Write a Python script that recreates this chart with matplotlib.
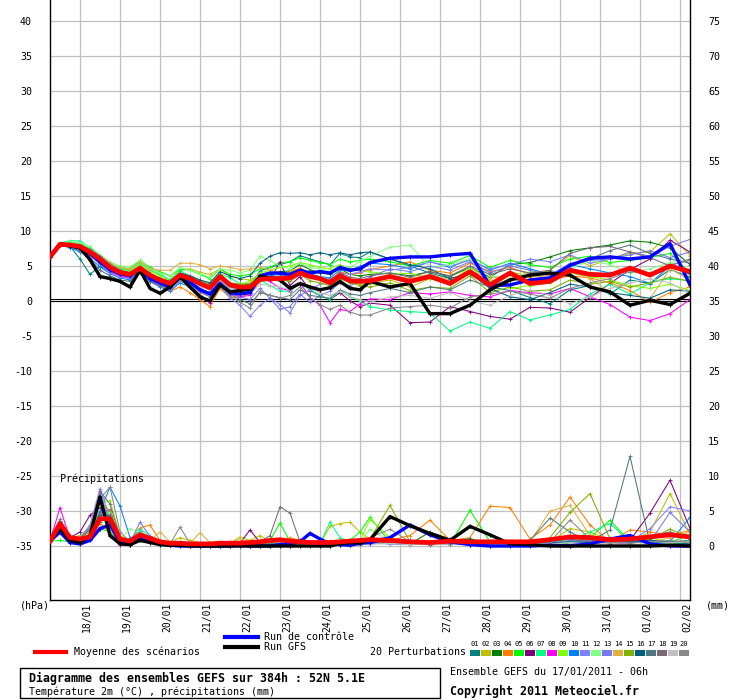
import matplotlib
matplotlib.use("Agg")
import matplotlib.pyplot as plt
from matplotlib.lines import Line2D
from matplotlib.patches import Rectangle

# ---------------- data ----------------
hours = [0, 6, 12, 18, 24, 30, 36, 42, 48, 54, 60, 66, 72, 78, 84, 90, 96, 102, 108, 114,
         120, 126, 132, 138, 144, 150, 156, 162, 168, 174, 180, 186, 192,
         204, 216, 228, 240, 252, 264, 276, 288, 300, 312, 324, 336, 348, 360, 372, 384]

day_hours = [18, 42, 66, 90, 114, 138, 162, 186, 210, 234, 258, 282, 306, 330, 354, 378]
day_labels = ["18/01", "19/01", "20/01", "21/01", "22/01", "23/01", "24/01", "25/01",
              "26/01", "27/01", "28/01", "29/01", "30/01", "31/01", "01/02", "02/02"]

left_ticks = [40, 35, 30, 25, 20, 15, 10, 5, 0, -5, -10, -15, -20, -25, -30, -35]
right_ticks = [75, 70, 65, 60, 55, 50, 45, 40, 35, 30, 25, 20, 15, 10, 5, 0]

pert_colors = ["#008080", "#c0c000", "#008000", "#ff8000", "#00ff00", "#800080", "#00ff80",
               "#ff00ff", "#80ff00", "#0080ff", "#8080ff", "#80ff80", "#7878f0", "#e0b040",
               "#80b000", "#006080", "#507880", "#786878", "#c0c0c0", "#888888"]
pert_names = ["01", "02", "03", "04", "05", "06", "07", "08", "09", "10",
              "11", "12", "13", "14", "15", "16", "17", "18", "19", "20"]

# temperature 2m (deg C)
mean_t = [6.3, 8.1, 8.0, 7.8, 7.0, 6.0, 4.8, 4.1, 3.8, 4.7, 3.7, 3.0, 2.5, 3.7, 3.2, 2.5, 1.9, 3.5, 2.3, 2.0,
          2.0, 3.1, 3.2, 3.2, 3.3, 4.0, 3.5, 3.2, 2.6, 3.6, 2.9, 2.8, 2.9,
          3.5, 2.8, 3.5, 2.5, 4.2, 2.3, 4.0, 2.5, 2.8, 4.4, 3.8, 3.7, 4.7, 3.7, 5.0, 4.2]
ctrl_t = [6.3, 8.1, 7.9, 7.6, 6.8, 5.6, 4.5, 3.9, 3.6, 4.6, 3.2, 2.6, 2.0, 3.4, 2.7, 1.6, 1.0, 2.5, 1.2, 1.0,
          1.2, 3.6, 4.0, 4.0, 3.8, 4.4, 4.0, 4.2, 4.0, 4.8, 4.4, 4.6, 5.5,
          6.1, 6.3, 6.3, 6.6, 6.8, 2.2, 2.3, 3.0, 3.3, 5.1, 6.1, 6.3, 6.0, 6.3, 8.2, 2.3]
gfs_t = [6.3, 8.1, 7.9, 7.6, 5.9, 3.5, 3.2, 2.8, 2.0, 4.4, 1.8, 1.1, 2.0, 3.5, 2.0, 0.6, 0.0, 2.3, 1.3, 1.5,
         1.7, 3.5, 3.3, 3.0, 1.8, 2.5, 2.0, 1.6, 1.9, 2.8, 1.8, 1.6, 2.8,
         2.0, 2.5, -1.8, -1.8, -0.6, 1.6, 3.0, 3.7, 4.0, 3.7, 2.0, 1.3, -0.6, 0.1, -0.5, 1.1]

p01_t = [6.3, 8.0, 7.8, 6.0, 3.8, 5.0, 4.2, 3.6, 3.4, 4.4, 3.2, 2.8, 2.2, 3.6, 3.0, 2.3, 1.5, 3.8, 2.2, 1.8,
         2.2, 4.3, 4.8, 5.2, 5.6, 6.5, 6.0, 5.6, 5.2, 6.8, 6.3, 6.2, 7.0,
         6.0, 5.0, 4.0, 3.2, 3.8, 2.0, 1.5, 0.5, -0.4, 1.6, 2.2, 1.0, 3.0, 2.5, 4.5, 3.4]
p02_t = [6.3, 8.1, 8.2, 8.0, 7.4, 6.4, 5.2, 4.6, 4.5, 5.6, 4.5, 3.8, 3.0, 4.5, 4.6, 4.1, 3.8, 4.6, 3.5, 3.2,
         3.0, 3.8, 3.5, 3.2, 4.0, 4.6, 4.0, 3.4, 2.5, 3.6, 2.8, 2.4, 2.5,
         3.0, 2.0, 3.2, 2.4, 4.3, 2.6, 4.2, 3.5, 4.4, 6.5, 5.0, 6.0, 6.8, 7.0, 9.6, 6.5]
p03_t = [6.3, 8.0, 7.9, 7.6, 6.9, 5.8, 4.6, 4.0, 3.8, 4.8, 3.6, 3.0, 2.6, 3.9, 3.3, 2.6, 2.0, 3.4, 2.5, 2.2,
         2.4, 3.6, 3.8, 4.2, 4.3, 5.2, 4.5, 4.0, 3.8, 4.6, 3.8, 3.6, 3.8,
         4.0, 3.6, 4.2, 3.5, 4.8, 3.4, 5.2, 5.5, 6.3, 7.2, 7.6, 8.0, 8.6, 8.4, 7.6, 5.2]
p04_t = [6.3, 8.0, 7.8, 7.5, 6.6, 5.5, 4.3, 3.7, 3.3, 4.3, 3.0, 2.2, 1.4, 2.0, 1.2, 0.2, -0.8, 1.8, 0.5, 0.6,
         1.0, 2.8, 3.0, 3.4, 4.2, 4.7, 3.9, 3.3, 2.8, 4.2, 3.8, 4.0, 4.5,
         5.0, 5.6, 4.4, 4.0, 5.4, 4.2, 4.8, 3.8, 3.0, 3.6, 3.3, 2.6, 1.5, -0.2, 1.2, 2.0]
p05_t = [6.3, 8.2, 8.5, 8.2, 7.4, 6.3, 5.2, 4.8, 4.6, 5.8, 4.8, 4.2, 3.6, 4.5, 4.4, 3.8, 3.2, 4.6, 3.8, 3.6,
         3.8, 4.6, 4.8, 5.5, 5.6, 6.2, 5.8, 5.5, 5.2, 6.0, 5.6, 5.8, 6.0,
         5.6, 5.0, 5.8, 5.4, 6.5, 4.8, 5.8, 5.2, 4.8, 6.0, 6.4, 5.5, 5.8, 6.2, 6.8, 4.0]
p06_t = [6.3, 8.1, 8.0, 7.6, 6.8, 5.8, 4.6, 4.0, 3.5, 4.4, 3.4, 2.6, 2.4, 3.8, 3.2, 2.7, 2.2, 3.8, 2.5, 2.0,
         1.5, 3.2, 3.0, 5.6, 2.2, 3.5, 1.5, 0.8, 0.2, 1.2, 0.0, -0.8, -0.3,
         -0.6, -3.1, -3.0, -0.8, -1.5, -2.2, -2.6, -0.9, -1.0, -1.6, 0.5, 2.5, 4.5, 6.0, 8.7, 7.0]
p07_t = [6.3, 8.3, 8.6, 8.6, 7.6, 6.5, 5.4, 4.6, 4.3, 5.4, 4.4, 3.8, 3.0, 4.3, 3.6, 3.0, 2.4, 3.9, 3.3, 2.5,
         2.0, 3.0, 2.2, 1.5, 1.3, 2.6, 1.6, 0.8, 0.2, 1.5, 0.6, 0.0, -0.8,
         -1.3, -1.5, -1.7, -4.3, -3.0, -3.9, -1.5, -2.7, -2.0, -1.2, 1.0, 2.4, 1.0, 2.6, 3.2, 2.9]
p08_t = [6.3, 8.0, 7.7, 7.3, 6.5, 5.3, 4.2, 3.6, 3.2, 4.2, 3.0, 2.2, 1.8, 3.3, 2.5, 0.8, -0.3, 2.6, 1.0, 0.6,
         0.8, 3.2, 2.8, 1.8, 1.5, 2.6, 0.5, -0.6, -3.1, -1.2, -1.5, -0.4, 0.3,
         0.2, 1.2, 1.0, 1.3, 0.8, 0.6, 1.5, 1.2, 1.0, 1.8, 0.6, -0.5, -2.3, -2.8, -1.8, 0.2]
p09_t = [6.3, 8.1, 8.2, 7.9, 7.2, 6.1, 5.0, 4.4, 4.2, 5.2, 4.2, 3.6, 2.8, 3.8, 3.4, 2.6, 2.2, 3.6, 2.4, 2.4,
         2.8, 4.0, 4.4, 4.8, 5.0, 5.5, 5.2, 4.8, 4.6, 5.2, 4.6, 4.4, 4.2,
         3.8, 4.0, 3.2, 2.8, 4.8, 3.0, 1.8, 2.2, 2.6, 4.0, 3.5, 3.0, 2.2, 1.8, 2.4, 1.5]
p10_t = [6.3, 8.0, 7.6, 7.0, 6.1, 4.9, 3.9, 3.3, 3.0, 4.1, 2.8, 2.0, 1.4, 2.6, 2.0, 1.5, 1.0, 3.0, 1.6, 1.2,
         1.4, 3.5, 3.6, 3.8, 3.5, 4.5, 3.8, 3.5, 3.3, 4.4, 4.3, 5.0, 5.4,
         5.2, 4.6, 5.6, 4.8, 6.0, 4.4, 5.4, 4.6, 3.8, 5.2, 4.6, 4.0, 3.5, 2.5, 5.0, 3.8]
p11_t = [6.3, 8.1, 7.9, 7.4, 6.6, 5.3, 4.0, 3.4, 3.2, 4.2, 3.0, 2.4, 1.6, 2.8, 2.3, 1.4, 0.6, 2.2, 0.4, -0.6,
         -2.2, -0.6, 0.4, -0.5, -1.7, 0.8, 1.6, 2.4, 2.8, 4.0, 3.8, 4.2, 4.6,
         4.4, 4.8, 5.6, 5.0, 5.8, 4.6, 5.2, 6.0, 5.6, 6.6, 5.4, 6.0, 7.0, 6.4, 7.8, 8.8]
p12_t = [6.3, 8.3, 8.5, 8.3, 7.8, 6.6, 5.6, 5.0, 4.9, 5.8, 4.6, 4.0, 3.6, 4.8, 4.4, 3.9, 3.4, 4.6, 4.4, 4.0,
         4.4, 6.4, 5.8, 5.0, 4.6, 5.4, 4.8, 4.6, 4.2, 5.0, 4.8, 5.6, 6.4,
         7.7, 8.0, 4.8, 5.2, 6.0, 3.6, 3.2, 4.2, 3.8, 4.6, 5.8, 5.2, 4.0, 4.6, 5.5, 5.8]
p13_t = [6.3, 8.0, 7.8, 7.3, 6.5, 5.4, 4.4, 3.8, 3.5, 4.6, 3.4, 2.8, 2.0, 3.2, 2.6, 1.8, 1.2, 2.5, 1.2, 0.6,
         0.2, 1.8, 0.4, -1.2, -0.8, 1.0, -0.2, 0.8, 1.4, 2.6, 2.2, 2.8, 3.4,
         4.6, 4.2, 5.0, 4.4, 5.6, 4.0, 5.0, 4.4, 3.6, 5.4, 5.8, 6.0, 6.6, 7.2, 6.2, 7.0]
p14_t = [6.3, 8.1, 8.0, 7.8, 7.2, 6.4, 5.4, 4.8, 4.6, 5.6, 4.6, 4.4, 4.4, 5.4, 5.4, 5.2, 4.6, 5.0, 4.8, 4.5,
         4.6, 4.8, 4.4, 4.0, 3.8, 4.4, 3.6, 3.0, 2.6, 3.6, 3.0, 2.8, 3.0,
         3.6, 3.2, 3.8, 3.0, 4.4, 3.2, 3.8, 3.4, 3.6, 4.2, 3.2, 1.2, -0.5, 0.3, 4.6, 3.0]
p15_t = [6.3, 8.1, 8.1, 7.8, 7.1, 6.0, 4.8, 4.2, 4.0, 4.9, 3.8, 3.2, 2.7, 4.0, 3.4, 2.8, 2.5, 3.9, 2.6, 2.4,
         2.5, 3.6, 3.3, 3.0, 2.8, 3.8, 2.9, 2.6, 2.2, 3.2, 2.6, 2.2, 2.0,
         2.6, 1.5, 2.0, 1.8, 3.6, 1.2, 2.0, 1.4, 1.6, 3.0, 2.4, 2.8, 2.0, 2.6, 3.4, 2.8]
p16_t = [6.3, 8.0, 7.8, 7.4, 6.6, 5.5, 4.5, 3.9, 3.7, 4.8, 3.6, 3.2, 2.8, 4.0, 3.6, 3.0, 2.6, 4.2, 3.6, 3.2,
         3.6, 5.4, 6.4, 6.9, 6.8, 6.9, 6.6, 6.9, 6.6, 6.9, 6.6, 6.9, 7.0,
         6.0, 5.2, 4.6, 3.2, 4.0, 1.8, 0.6, 0.2, 1.2, 2.4, 2.0, 1.2, 0.8, 0.4, 1.6, 1.4]
p17_t = [6.3, 8.0, 7.7, 7.2, 6.0, 4.4, 3.6, 3.0, 2.8, 4.0, 2.7, 2.2, 1.8, 3.0, 2.4, 1.6, 1.2, 2.8, 1.0, 0.2,
         -0.4, 1.2, 0.8, 0.5, 0.2, 1.6, 0.8, 0.6, 0.4, 1.6, 1.0, 0.8, 1.2,
         1.8, 1.2, 2.0, 1.6, 3.0, 2.0, 3.2, 2.6, 3.4, 5.2, 6.0, 7.2, 8.0, 6.8, 6.0, 5.4]
p18_t = [6.3, 8.1, 8.0, 7.6, 6.9, 5.8, 4.7, 4.0, 3.7, 4.6, 3.5, 3.0, 2.6, 3.6, 3.0, 2.4, 1.8, 3.3, 2.0, 1.6,
         1.6, 3.0, 3.3, 3.6, 3.4, 4.2, 3.6, 3.3, 3.1, 4.0, 3.4, 3.2, 3.6,
         4.0, 3.4, 4.2, 3.6, 5.0, 3.8, 4.6, 4.0, 4.4, 6.8, 7.6, 7.8, 7.0, 6.2, 5.0, 6.0]
p19_t = [6.3, 8.1, 7.9, 7.5, 6.7, 5.6, 4.5, 3.8, 3.6, 4.5, 3.4, 2.8, 2.2, 3.2, 2.6, 2.0, 1.6, 3.0, 1.8, 1.2,
         1.0, 2.4, 2.2, 2.0, 1.6, 2.6, 1.8, 1.2, 0.8, 1.4, 0.6, 0.2, -0.2,
         0.6, 0.8, 0.4, 1.2, 0.0, -0.6, 0.8, 1.6, 0.8, -0.4, 0.6, 1.8, 2.6, 3.2, 2.6, 1.0]
p20_t = [6.3, 8.2, 8.1, 7.9, 7.4, 6.5, 5.3, 4.4, 4.0, 4.6, 3.4, 2.6, 2.0, 3.0, 2.2, 1.2, 0.6, 2.0, 0.8, -0.2,
         -1.0, 1.4, 0.8, 0.4, 0.8, 2.0, 0.5, -0.5, -1.2, -0.6, -1.6, -2.0, -2.0,
         -1.0, -0.8, -0.6, -1.0, 0.6, 1.0, 1.4, 1.0, 0.4, 1.8, 2.6, 3.2, 4.2, 4.0, 5.2, 5.8]

# precipitation (mm)
mean_p = [0.7, 3.2, 1.2, 1.0, 1.3, 3.9, 3.9, 1.0, 0.7, 1.6, 1.1, 0.6, 0.4, 0.4, 0.3, 0.3, 0.3, 0.4, 0.4, 0.4,
          0.5, 0.6, 0.8, 0.9, 0.7, 0.6, 0.5, 0.5, 0.5, 0.6, 0.7, 0.8, 0.9,
          0.8, 0.6, 0.5, 0.7, 0.6, 0.6, 0.6, 0.6, 0.9, 1.3, 1.2, 0.9, 1.0, 1.3, 1.6, 1.3]
ctrl_p = [0.7, 2.0, 0.5, 0.3, 0.8, 2.5, 3.0, 0.5, 0.2, 1.2, 0.8, 0.3, 0.1, 0.0, 0.0, 0.0, 0.0, 0.0, 0.0, 0.1,
          0.0, 0.0, 0.0, 0.2, 0.3, 0.6, 1.8, 1.0, 0.3, 0.2, 0.1, 0.4, 0.5,
          1.2, 3.0, 1.6, 0.6, 0.2, 0.0, 0.0, 0.0, 0.1, 0.0, 0.3, 1.0, 1.5, 0.3, 0.0, 0.0]
gfs_p = [0.7, 2.5, 0.8, 0.5, 1.5, 7.0, 1.5, 0.3, 0.2, 0.8, 0.5, 0.2, 0.1, 0.1, 0.0, 0.0, 0.0, 0.0, 0.0, 0.0,
         0.0, 0.0, 0.0, 0.0, 0.0, 0.0, 0.0, 0.0, 0.0, 0.3, 0.5, 0.4, 0.9,
         4.2, 2.9, 1.8, 0.8, 2.8, 1.6, 0.3, 0.2, 0.0, 0.0, 0.0, 0.0, 0.0, 0.0, 0.1, 0.0]

p01_p = [0.7, 3.5, 1.0, 0.8, 1.2, 4.0, 3.5, 0.8, 0.5, 1.5, 1.0, 0.4, 0.2, 0.2, 0.1, 0.1, 0.0, 0.1, 0.2, 0.1,
         0.1, 0.2, 0.3, 0.5, 0.6, 0.8, 0.6, 0.4, 0.2, 0.1, 0.2, 0.5, 0.6,
         0.4, 0.2, 0.3, 0.5, 0.2, 0.1, 0.3, 0.2, 0.5, 1.2, 0.8, 0.4, 0.6, 1.5, 1.8, 1.0]
p02_p = [0.7, 3.0, 1.2, 1.5, 2.2, 5.0, 4.5, 1.4, 0.4, 1.2, 0.8, 0.6, 0.5, 1.2, 0.8, 0.5, 0.5, 0.6, 0.4, 1.3,
         0.8, 1.5, 0.6, 0.2, 0.3, 0.5, 0.3, 0.3, 2.8, 3.2, 3.4, 2.0, 1.0,
         0.8, 0.4, 0.2, 0.6, 0.4, 0.2, 0.5, 0.3, 0.6, 2.5, 2.0, 0.8, 0.6, 2.0, 7.5, 1.6]
p03_p = [0.7, 2.8, 0.8, 0.6, 1.0, 3.5, 4.2, 1.0, 0.6, 1.8, 1.2, 0.5, 0.2, 0.2, 0.1, 0.0, 0.0, 0.1, 0.0, 0.2,
         0.2, 0.4, 0.5, 0.6, 0.8, 0.4, 0.3, 0.4, 0.2, 0.5, 0.8, 0.6, 0.4,
         0.6, 0.3, 2.0, 1.0, 0.5, 0.3, 0.4, 0.2, 0.2, 0.5, 0.8, 1.0, 1.2, 0.6, 0.3, 0.4]
p04_p = [0.7, 3.3, 1.0, 0.6, 1.4, 3.2, 2.0, 0.6, 0.8, 2.6, 3.0, 0.8, 0.3, 0.3, 0.2, 0.1, 0.0, 0.2, 0.1, 0.5,
         0.3, 0.2, 0.3, 0.6, 1.2, 0.8, 0.4, 0.5, 0.7, 0.6, 0.5, 0.6, 1.0,
         0.8, 1.5, 3.7, 0.8, 1.2, 5.7, 5.5, 1.0, 3.0, 7.0, 3.0, 0.6, 2.3, 2.0, 1.6, 2.2]
p05_p = [0.7, 0.8, 0.6, 0.8, 1.0, 2.5, 2.0, 0.4, 0.5, 2.0, 0.8, 0.3, 0.2, 0.2, 0.0, 0.0, 0.1, 0.0, 0.2, 0.6,
         0.4, 0.2, 0.8, 3.3, 0.6, 0.4, 0.3, 0.6, 0.4, 0.3, 0.8, 2.0, 4.1,
         0.5, 0.3, 0.4, 0.2, 5.1, 0.6, 0.2, 0.3, 0.2, 0.4, 1.2, 3.7, 0.6, 0.4, 0.5, 1.6]
p06_p = [0.7, 3.0, 1.2, 2.0, 4.4, 5.5, 3.0, 0.8, 0.3, 1.0, 0.6, 0.4, 0.2, 0.1, 0.0, 0.0, 0.0, 0.3, 0.6, 0.4,
         2.3, 0.5, 0.3, 0.2, 0.1, 0.2, 0.4, 0.3, 0.6, 0.4, 0.3, 0.5, 0.8,
         0.4, 0.5, 0.2, 0.6, 0.4, 0.3, 0.5, 0.4, 0.8, 0.6, 1.0, 0.5, 0.8, 4.7, 9.4, 2.5]
p07_p = [0.7, 3.6, 1.1, 0.6, 1.2, 4.5, 5.0, 1.2, 0.8, 2.4, 1.5, 0.6, 0.3, 0.2, 0.2, 0.4, 0.2, 0.3, 0.2, 0.3,
         0.5, 0.2, 0.6, 1.0, 0.8, 0.5, 0.4, 0.3, 3.4, 1.2, 0.6, 0.4, 0.5,
         1.0, 0.4, 0.3, 0.5, 1.0, 0.4, 0.3, 0.5, 0.6, 0.8, 2.0, 3.2, 0.6, 0.5, 0.4, 0.8]
p08_p = [0.7, 5.5, 1.0, 0.5, 1.2, 4.8, 5.2, 0.2, 0.1, 1.4, 0.8, 0.3, 0.2, 0.1, 0.0, 0.0, 0.0, 0.0, 0.0, 0.1,
         0.0, 0.2, 0.0, 0.1, 0.0, 0.2, 0.3, 0.1, 0.0, 0.2, 0.3, 0.4, 0.6,
         0.5, 0.3, 0.4, 0.3, 0.2, 0.0, 0.4, 0.6, 0.3, 0.2, 0.5, 0.3, 0.4, 0.8, 0.6, 0.4]
p09_p = [0.7, 3.2, 1.3, 0.9, 1.8, 6.0, 6.5, 1.5, 0.5, 1.6, 1.0, 0.5, 0.3, 0.2, 0.1, 0.1, 0.2, 0.4, 0.3, 0.2,
         0.4, 0.8, 0.6, 0.4, 0.3, 0.2, 0.3, 0.6, 0.4, 0.3, 0.5, 0.8, 3.8,
         1.2, 0.4, 0.6, 0.3, 0.5, 0.2, 0.6, 0.3, 0.4, 0.6, 1.6, 0.8, 0.6, 1.2, 0.5, 0.4]
p10_p = [0.7, 3.4, 1.4, 0.8, 1.2, 5.0, 8.4, 5.7, 1.2, 1.0, 0.6, 0.3, 0.2, 0.1, 0.0, 0.0, 0.0, 0.2, 0.1, 0.0,
         0.2, 0.4, 0.5, 0.3, 0.2, 0.4, 0.3, 0.2, 0.1, 0.3, 0.5, 0.6, 0.4,
         0.5, 0.8, 0.4, 0.3, 0.6, 0.3, 0.2, 0.3, 0.6, 0.4, 0.6, 1.2, 0.4, 0.8, 0.6, 4.1]
p11_p = [0.7, 3.0, 1.0, 1.2, 3.0, 8.2, 4.0, 1.0, 0.4, 2.2, 1.0, 0.4, 0.2, 0.1, 0.0, 0.1, 0.0, 0.0, 0.2, 0.1,
         0.0, 0.3, 0.2, 0.5, 0.6, 0.4, 0.2, 0.3, 0.2, 0.4, 0.3, 0.2, 0.5,
         0.3, 0.2, 0.5, 0.4, 0.3, 0.6, 0.4, 0.3, 0.4, 0.6, 0.8, 0.5, 0.6, 2.5, 5.6, 5.0]
p12_p = [0.7, 2.6, 0.9, 0.6, 1.6, 4.2, 4.8, 0.9, 2.5, 2.0, 1.2, 0.5, 0.3, 0.2, 0.1, 0.0, 0.1, 0.0, 0.2, 0.2,
         0.3, 0.4, 0.3, 0.5, 0.4, 0.3, 0.2, 0.3, 0.5, 0.4, 0.3, 0.6, 2.4,
         0.6, 0.4, 0.3, 0.8, 0.4, 0.2, 0.3, 0.4, 0.2, 0.5, 1.0, 0.6, 0.4, 0.7, 0.5, 0.6]
p13_p = [0.7, 3.4, 1.1, 1.0, 2.6, 7.5, 3.5, 0.6, 0.5, 3.4, 1.4, 0.6, 0.3, 0.2, 0.1, 0.0, 0.0, 0.1, 0.0, 0.2,
         0.1, 0.2, 0.4, 0.6, 0.3, 0.5, 0.4, 0.2, 0.3, 0.4, 0.3, 0.2, 0.4,
         0.3, 0.5, 0.4, 0.2, 0.3, 0.5, 0.6, 0.4, 0.3, 0.8, 0.6, 0.4, 0.5, 0.6, 4.8, 2.0]
p14_p = [0.7, 2.9, 1.0, 0.8, 1.4, 3.8, 4.0, 1.0, 0.4, 1.2, 0.8, 2.0, 0.6, 0.3, 0.4, 1.9, 0.5, 0.3, 0.4, 1.0,
         0.6, 0.3, 0.5, 0.4, 0.6, 0.3, 0.4, 0.6, 0.3, 0.5, 0.8, 0.6, 0.5,
         0.4, 0.3, 0.5, 0.6, 0.4, 0.3, 0.2, 0.6, 5.0, 5.8, 1.5, 0.6, 0.8, 0.5, 1.2, 2.0]
p15_p = [0.7, 3.1, 1.3, 1.2, 2.0, 6.2, 5.0, 1.2, 0.6, 1.4, 0.9, 0.5, 0.3, 0.2, 0.2, 0.1, 0.0, 0.2, 0.3, 0.2,
         0.4, 0.6, 0.4, 0.3, 0.5, 0.6, 0.3, 0.4, 0.6, 0.5, 0.3, 0.4, 1.0,
         5.8, 0.6, 0.4, 0.5, 0.8, 0.3, 0.5, 0.4, 1.2, 4.8, 7.5, 1.0, 0.6, 1.0, 2.4, 1.2]
p16_p = [0.7, 3.2, 1.2, 0.8, 1.6, 4.4, 4.2, 1.0, 0.3, 1.2, 0.7, 0.3, 0.2, 0.3, 0.4, 0.2, 0.1, 0.0, 0.1, 0.3,
         0.4, 0.2, 0.6, 0.8, 0.5, 0.3, 0.2, 0.4, 0.2, 0.3, 0.6, 0.5, 0.8,
         0.6, 0.3, 0.4, 0.8, 1.0, 0.4, 0.3, 0.2, 0.4, 0.6, 0.5, 0.8, 0.6, 0.8, 0.5, 0.3]
p17_p = [0.7, 3.3, 1.2, 0.9, 1.5, 4.6, 4.4, 0.8, 0.4, 1.4, 0.9, 0.4, 0.3, 0.2, 0.1, 0.0, 0.0, 0.1, 0.2, 0.2,
         0.3, 0.4, 0.5, 0.3, 0.4, 0.2, 0.3, 0.5, 0.4, 0.3, 0.4, 0.5, 0.6,
         0.4, 0.3, 0.5, 0.4, 0.6, 0.3, 0.4, 0.8, 4.0, 2.0, 0.6, 2.3, 12.8, 0.4, 0.6, 0.8]
p18_p = [0.7, 3.8, 1.1, 1.0, 2.4, 7.8, 6.0, 1.3, 0.5, 1.8, 1.0, 0.5, 0.3, 0.2, 0.3, 0.2, 0.1, 0.3, 0.2, 0.4,
         0.3, 0.6, 1.5, 5.6, 4.7, 0.6, 0.4, 0.3, 0.5, 0.4, 0.3, 0.4, 0.6,
         0.5, 0.4, 0.3, 0.6, 0.5, 0.2, 0.4, 0.6, 0.8, 1.0, 0.6, 0.4, 0.8, 1.5, 2.0, 1.2]
p19_p = [0.7, 2.7, 1.0, 0.7, 1.3, 3.6, 3.8, 0.9, 0.4, 1.3, 0.8, 0.4, 0.2, 0.1, 0.2, 0.1, 0.0, 0.1, 0.0, 0.1,
         0.2, 0.3, 0.2, 0.1, 0.3, 0.2, 0.1, 0.2, 0.3, 0.2, 0.4, 0.3, 0.2,
         0.4, 0.2, 0.3, 0.2, 0.4, 0.3, 0.2, 0.4, 0.3, 0.5, 0.3, 0.4, 0.2, 0.3, 0.5, 0.6]
p20_p = [0.7, 3.6, 1.3, 1.1, 2.8, 6.8, 8.4, 2.0, 0.6, 1.9, 1.2, 0.5, 0.3, 2.7, 0.4, 0.2, 0.1, 0.2, 0.3, 0.2,
         0.1, 0.3, 0.2, 0.4, 0.3, 0.5, 0.4, 0.3, 0.2, 0.4, 0.3, 0.5, 1.2,
         2.4, 0.6, 0.4, 0.3, 0.6, 0.4, 0.3, 0.5, 0.6, 3.7, 1.0, 0.5, 0.4, 0.6, 0.8, 0.5]

pert_t = [p01_t, p02_t, p03_t, p04_t, p05_t, p06_t, p07_t, p08_t, p09_t, p10_t,
          p11_t, p12_t, p13_t, p14_t, p15_t, p16_t, p17_t, p18_t, p19_t, p20_t]
pert_p = [p01_p, p02_p, p03_p, p04_p, p05_p, p06_p, p07_p, p08_p, p09_p, p10_p,
          p11_p, p12_p, p13_p, p14_p, p15_p, p16_p, p17_p, p18_p, p19_p, p20_p]

bad = []
for nm, s in [("mean_t", mean_t), ("ctrl_t", ctrl_t), ("gfs_t", gfs_t),
              ("mean_p", mean_p), ("ctrl_p", ctrl_p), ("gfs_p", gfs_p)] + \
        [("t" + n, s) for n, s in zip(pert_names, pert_t)] + \
        [("p" + n, s) for n, s in zip(pert_names, pert_p)]:
    if len(s) != len(hours):
        bad.append((nm, len(s)))
if bad:
    raise SystemExit("length mismatch: %s" % bad)

# ---------------- figure ----------------
W, H = 740, 700
MONO = "DejaVu Sans Mono"
plt.rcParams["font.family"] = [MONO]

fig = plt.figure(figsize=(W / 100, H / 100), dpi=100)
fig.patch.set_facecolor("white")


def fx(x):
    return x / W


def fy(y):
    return 1 - y / H


ax = fig.add_axes([fx(50), fy(600), 640 / W, 600 / H])
ax.set_xlim(0, 384)
ax.set_ylim((301 - 600) / 7.0, 301 / 7.0)
ax.set_facecolor("white")

grid_c = "#c0c0c0"
for v in left_ticks:
    ax.axhline(v, color=grid_c, lw=0.9, zorder=0)
for h in day_hours:
    ax.axvline(h, color=grid_c, lw=0.9, zorder=0)
ax.axhline(0, color="black", lw=0.8, zorder=1)
ax.axhline(0.29, color="black", lw=0.8, zorder=1)

ax.set_yticks(left_ticks)
ax.set_yticklabels([str(v) for v in left_ticks], fontsize=7.2, family=MONO)
ax.tick_params(axis="y", length=0, pad=13)
ax.set_xticks([])
for s in ["top", "right"]:
    ax.spines[s].set_visible(False)
ax.spines["left"].set_linewidth(1.0)
ax.spines["bottom"].set_linewidth(1.0)

# temperature lines
for col, ser in zip(pert_colors, pert_t):
    ax.plot(hours, ser, color=col, lw=0.75, marker="+", ms=3, mew=0.6, zorder=2)
ax.plot(hours, ctrl_t, color="#0000ff", lw=2.4, marker="+", ms=3, mew=0.8, zorder=3)
ax.plot(hours, gfs_t, color="black", lw=2.4, marker="+", ms=3, mew=0.8, zorder=3)
ax.plot(hours, mean_t, color="#ff0000", lw=3.4, zorder=4)

# precipitation on right axis (mm)
ax2 = ax.twinx()
ax2.set_ylim((301 - 600) / 7.0 + 35, 301 / 7.0 + 35)
ax2.set_xlim(0, 384)
ax2.patch.set_visible(False)
for s in ["top", "left", "bottom"]:
    ax2.spines[s].set_visible(False)
ax2.spines["right"].set_linewidth(1.0)
ax2.set_yticks(right_ticks)
ax2.set_yticklabels([str(v) for v in right_ticks], fontsize=7.2, family=MONO)
ax2.tick_params(axis="y", length=0, pad=13)
for col, ser in zip(pert_colors, pert_p):
    ax2.plot(hours, ser, color=col, lw=0.75, marker="+", ms=3, mew=0.6, zorder=2)
ax2.plot(hours, ctrl_p, color="#0000ff", lw=2.4, marker="+", ms=3, mew=0.8, zorder=3)
ax2.plot(hours, gfs_p, color="black", lw=2.4, marker="+", ms=3, mew=0.8, zorder=3)
ax2.plot(hours, mean_p, color="#ff0000", lw=3.4, zorder=4)

ax.text(0.015, (479 - 0) / 600.0, "", transform=ax.transAxes)
fig.text(fx(60), fy(479), "Précipitations", fontsize=7.2, family=MONO, va="center", ha="left")

# date labels (rotated)
for h, lab in zip(day_hours, day_labels):
    px = 50 + h * 640 / 384 + 7
    fig.text(fx(px), fy(603), lab, rotation=90, fontsize=7, family=MONO, ha="center", va="top")

fig.text(fx(20), fy(606), "(hPa)", fontsize=7.2, family=MONO, va="center", ha="left")
fig.text(fx(706), fy(606), "(mm)", fontsize=7.2, family=MONO, va="center", ha="left")

# legend
fig.add_artist(Line2D([fx(225), fx(258)], [fy(637), fy(637)], color="#0000ff", lw=3.0))
fig.add_artist(Line2D([fx(225), fx(258)], [fy(647), fy(647)], color="black", lw=3.0))
fig.add_artist(Line2D([fx(35), fx(66)], [fy(652), fy(652)], color="#ff0000", lw=3.0))
fig.text(fx(264), fy(637), "Run de contrôle", fontsize=7.2, family=MONO, va="center", ha="left")
fig.text(fx(264), fy(647), "Run GFS", fontsize=7.2, family=MONO, va="center", ha="left")
fig.text(fx(74), fy(652), "Moyenne des scénarios", fontsize=7.2, family=MONO, va="center", ha="left")
fig.text(fx(370), fy(652), "20 Perturbations", fontsize=7.2, family=MONO, va="center", ha="left")

for i, (nm, col) in enumerate(zip(pert_names, pert_colors)):
    x0 = 470 + 11 * i
    fig.add_artist(Rectangle((fx(x0), fy(656)), 10 / W, 6 / H, facecolor=col,
                             edgecolor="none", transform=fig.transFigure))
    fig.text(fx(x0 + 5), fy(644), nm, fontsize=5, family=MONO, ha="center", va="center")

# bottom boxes
fig.add_artist(Rectangle((fx(20), fy(698)), 420 / W, 30 / H, facecolor="none",
                         edgecolor="black", lw=1.0, transform=fig.transFigure))
fig.text(fx(29), fy(678), "Diagramme des ensembles GEFS sur 384h : 52N 5.1E",
         fontsize=8.4, family=MONO, weight="bold", va="center", ha="left")
fig.text(fx(29), fy(692), "Température 2m (°C) , précipitations (mm)",
         fontsize=7.2, family=MONO, va="center", ha="left")
fig.text(fx(450), fy(672), "Ensemble GEFS du 17/01/2011 - 06h",
         fontsize=7.2, family=MONO, va="center", ha="left")
fig.text(fx(450), fy(691), "Copyright 2011 Meteociel.fr",
         fontsize=8.4, family=MONO, weight="bold", va="center", ha="left")

fig.savefig("out.png", dpi=100, facecolor="white")
